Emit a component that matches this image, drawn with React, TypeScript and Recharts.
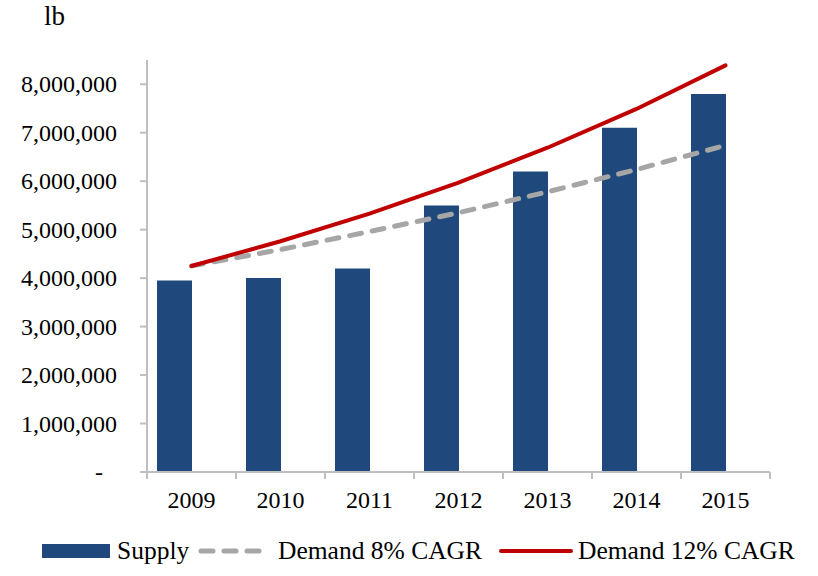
import React from 'react';
import { ComposedChart, Bar, Line, XAxis, YAxis, Legend } from 'recharts';

const years = ['2009', '2010', '2011', '2012', '2013', '2014', '2015'];
const supply = [3950000, 4000000, 4200000, 5500000, 6200000, 7100000, 7800000];
const demand8 = [4250000, 4590000, 4960000, 5350000, 5780000, 6240000, 6740000];
const demand12 = [4250000, 4760000, 5330000, 5970000, 6690000, 7490000, 8390000];
const yTicks = [0, 1000000, 2000000, 3000000, 4000000, 5000000, 6000000, 7000000, 8000000];

const data = years.map((year, i) => ({
    year,
    supply: supply[i],
    d8: demand8[i],
    d12: demand12[i],
}));

const FONT = '"Liberation Serif", "Times New Roman", serif';
const AXIS = '#bfbfbf';
const BLUE = '#1f497d';
const RED = '#c00000';
const GRAY = '#a6a6a6';

const W = 818;
const H = 576;
const LEFT = 147;
const RIGHT = 48;
const BAND = (W - LEFT - RIGHT) / years.length;

// x ticks sit between categories, labels in the middle
const XTick = (props: any) => {
    const { x, y, payload, index } = props;
    return (
        <g>
            <line x1={x - BAND / 2} x2={x - BAND / 2} y1={y} y2={y + 7} stroke={AXIS} strokeWidth={2} />
            {index === years.length - 1 && (
                <line x1={x + BAND / 2} x2={x + BAND / 2} y1={y} y2={y + 7} stroke={AXIS} strokeWidth={2} />
            )}
            <text x={x} y={y + 36} textAnchor="middle" fontSize={24} fontFamily={FONT} fill="#000">
                {payload.value}
            </text>
        </g>
    );
};

const YTick = (props: any) => {
    const { x, y, payload } = props;
    const v = payload.value;
    const label = v === 0 ? '-' : v.toLocaleString('en-US');
    return (
        <text x={v === 0 ? x - 14 : x} y={y} dy={8} textAnchor="end" fontSize={24} fontFamily={FONT} fill="#000">
            {label}
        </text>
    );
};

const LegendBox = () => (
    <div style={{ position: 'relative', width: W, height: 30, fontFamily: FONT, fontSize: 25.5, color: '#000' }}>
        <div style={{ position: 'absolute', left: 42, top: 8, width: 68, height: 14, background: BLUE }} />
        <span style={{ position: 'absolute', left: 117, top: 0, lineHeight: '30px' }}>Supply</span>
        <svg style={{ position: 'absolute', left: 198, top: 5 }} width={68} height={20}>
            <line x1={3} x2={64} y1={10} y2={10} stroke={GRAY} strokeWidth={5} strokeDasharray="12 11" strokeLinecap="round" />
        </svg>
        <span style={{ position: 'absolute', left: 278, top: 0, lineHeight: '30px' }}>Demand 8% CAGR</span>
        <svg style={{ position: 'absolute', left: 498, top: 5 }} width={78} height={20}>
            <line x1={3} x2={73} y1={10} y2={10} stroke={RED} strokeWidth={4} strokeLinecap="round" />
        </svg>
        <span style={{ position: 'absolute', left: 578, top: 0, lineHeight: '30px' }}>Demand 12% CAGR</span>
    </div>
);

export default function App() {
    return (
        <div style={{ position: 'absolute', left: 0, top: 0, width: W, height: H, background: '#fff' }}>
            <div style={{ position: 'absolute', left: 44, top: 1, fontFamily: FONT, fontSize: 27, lineHeight: '30px' }}>lb</div>
            <ComposedChart
                width={W}
                height={H}
                data={data}
                margin={{ top: 60, right: RIGHT, bottom: 64, left: 0 }}
                barGap={0}
            >
                <XAxis
                    dataKey="year"
                    height={40}
                    tickLine={false}
                    tickSize={0}
                    tickMargin={0}
                    axisLine={{ stroke: AXIS, strokeWidth: 2 }}
                    tick={<XTick />}
                    interval={0}
                />
                <YAxis
                    width={LEFT}
                    domain={[0, 8500000]}
                    ticks={yTicks}
                    interval={0}
                    tickSize={7}
                    tickMargin={23}
                    tickLine={{ stroke: AXIS, strokeWidth: 2 }}
                    axisLine={{ stroke: AXIS, strokeWidth: 2 }}
                    tick={<YTick />}
                />
                <Legend
                    layout="horizontal"
                    verticalAlign="middle"
                    wrapperStyle={{ position: 'absolute', top: 536, left: 0, width: W }}
                    content={() => <LegendBox />}
                />
                <Bar dataKey="supply" name="Supply" fill={BLUE} barSize={35} isAnimationActive={false} />
                {/* empty series so the supply bars sit left of the category centre, like the source */}
                <Bar dataKey="spacer" fill="transparent" barSize={35} legendType="none" isAnimationActive={false} />
                <Line
                    type="linear"
                    dataKey="d8"
                    name="Demand 8% CAGR"
                    stroke={GRAY}
                    strokeWidth={5}
                    strokeDasharray="12 11"
                    strokeLinecap="round"
                    dot={false}
                    activeDot={false}
                    isAnimationActive={false}
                />
                <Line
                    type="linear"
                    dataKey="d12"
                    name="Demand 12% CAGR"
                    stroke={RED}
                    strokeWidth={4}
                    strokeLinecap="round"
                    dot={false}
                    activeDot={false}
                    isAnimationActive={false}
                />
            </ComposedChart>
        </div>
    );
}
